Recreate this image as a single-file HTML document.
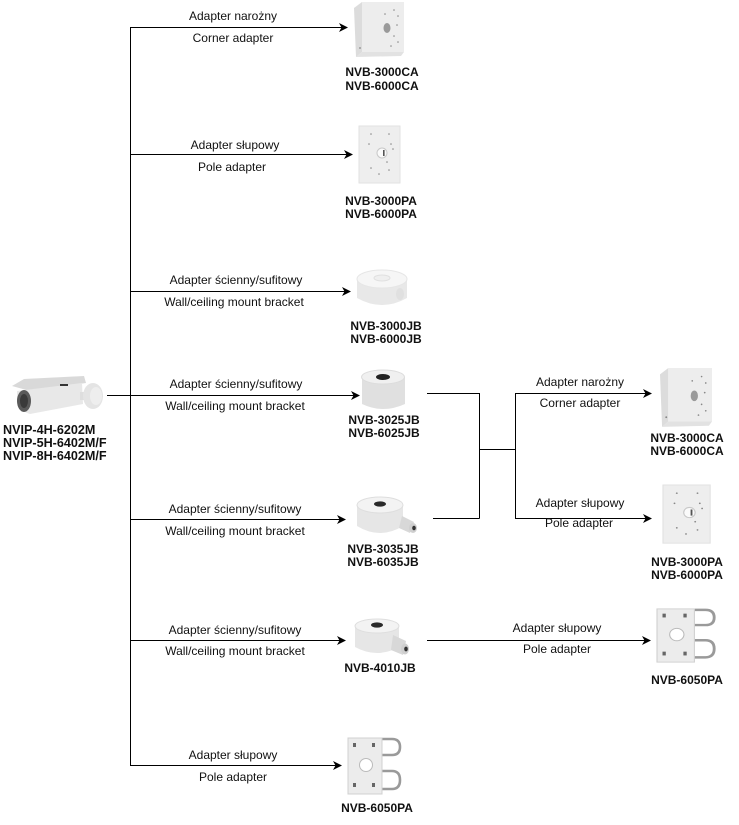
<!DOCTYPE html>
<html><head><meta charset="utf-8"><style>
html,body{margin:0;padding:0;background:#fff;}
svg{display:block;}
text{font-family:"Liberation Sans",Arial,sans-serif;fill:#111;}
.l{font-size:12px;text-anchor:middle;}
.b{font-size:12px;font-weight:bold;text-anchor:middle;}
.c{font-size:12.6px;font-weight:bold;}
</style></head><body>
<svg width="739" height="825" viewBox="0 0 739 825" xmlns="http://www.w3.org/2000/svg">
<defs>
<g id="ca">
  <polygon points="0,6 8,0 8,50 2,55" fill="#dcdcdc"/>
  <rect x="8" y="0" width="42" height="50" fill="#ededed"/>
  <polygon points="2,55 8,50 50,50 47,54" fill="#e2e2e2"/>
  <ellipse cx="33" cy="26" rx="3.5" ry="5" fill="#9a9a9a"/>
  <g fill="#888"><circle cx="40" cy="8" r="0.8"/><circle cx="44" cy="14" r="0.8"/><circle cx="31" cy="12" r="0.8"/><circle cx="43" cy="23" r="0.8"/><circle cx="40" cy="34" r="0.8"/><circle cx="44" cy="40" r="0.8"/><circle cx="37" cy="44" r="0.8"/><circle cx="6" cy="46" r="0.9"/></g>
</g>
<g id="pa">
  <rect x="0" y="0" width="41" height="57" fill="#eeeeee" stroke="#e2e2e2"/>
  <circle cx="23" cy="27" r="5" fill="#fafafa" stroke="#c8c8c8"/>
  <rect x="24" y="24" width="1.6" height="6" fill="#555"/>
  <g fill="#888"><circle cx="12" cy="8" r="0.8"/><circle cx="30" cy="8" r="0.8"/><circle cx="10" cy="18" r="0.8"/><circle cx="32" cy="18" r="0.8"/><circle cx="34" cy="23" r="0.8"/><circle cx="28" cy="36" r="0.8"/><circle cx="12" cy="42" r="0.8"/><circle cx="30" cy="44" r="0.8"/><circle cx="20" cy="48" r="0.8"/></g>
</g>
<g id="pp">
  <path d="M24 3 L44 3 Q52 3 52 11 Q52 19 44 19 L33 19" fill="none" stroke="#9a9a9a" stroke-width="2.6"/>
  <path d="M33 35 L44 35 Q52 35 52 44 Q52 53 44 53 L33 53" fill="none" stroke="#9a9a9a" stroke-width="2.6"/>
  <rect x="0" y="2" width="34" height="56" fill="#ececec" stroke="#d0d0d0"/>
  <circle cx="18" cy="29" r="6.5" fill="#fff" stroke="#bbb"/>
  <g fill="#666"><rect x="5" y="7" width="3" height="4"/><rect x="24" y="7" width="3" height="4"/><rect x="5" y="47" width="3" height="4"/><rect x="24" y="47" width="3" height="4"/></g>
</g>
</defs>

<!-- connectors -->
<g stroke="#000" stroke-width="1" fill="none">
  <path d="M130.5 27 V766"/>
  <path d="M130 27.5 H345"/>
  <path d="M130 154.5 H350"/>
  <path d="M130 291.5 H348"/>
  <path d="M107 395.5 H357"/>
  <path d="M130 519.5 H343"/>
  <path d="M130 640.5 H343"/>
  <path d="M130 765.5 H339"/>
  <path d="M427 393.5 H479.5 V518.5 M433 518.5 H479.5 M479.5 449.5 H515.5 M515.5 393.5 V518.5"/>
  <path d="M515 393.5 H649"/>
  <path d="M515 518.5 H649"/>
  <path d="M427 640.5 H648"/>
</g>
<g fill="#000">
  <path d="M348 27.5 l-9 -4.5 l2.5 4.5 l-2.5 4.5 z"/>
  <path d="M353 154.5 l-9 -4.5 l2.5 4.5 l-2.5 4.5 z"/>
  <path d="M351 291.5 l-9 -4.5 l2.5 4.5 l-2.5 4.5 z"/>
  <path d="M360 395.5 l-9 -4.5 l2.5 4.5 l-2.5 4.5 z"/>
  <path d="M346 519.5 l-9 -4.5 l2.5 4.5 l-2.5 4.5 z"/>
  <path d="M346 640.5 l-9 -4.5 l2.5 4.5 l-2.5 4.5 z"/>
  <path d="M342 765.5 l-9 -4.5 l2.5 4.5 l-2.5 4.5 z"/>
  <path d="M652 393.5 l-9 -4.5 l2.5 4.5 l-2.5 4.5 z"/>
  <path d="M652 518.5 l-9 -4.5 l2.5 4.5 l-2.5 4.5 z"/>
  <path d="M651 640.5 l-9 -4.5 l2.5 4.5 l-2.5 4.5 z"/>
</g>

<!-- camera -->
<g>
  <path d="M12 386 L24 379 L84 376 L86 383 L30 391 Z" fill="#d9d9d9"/>
  <path d="M17 391 L82 383 L83 404 L30 414 Q19 411 17 400 Z" fill="#e8e8e8"/>
  <ellipse cx="24" cy="401" rx="7" ry="11" fill="#5a5a5a"/>
  <ellipse cx="24" cy="401" rx="4" ry="7" fill="#3a3a3a"/>
  <rect x="80" y="392" width="8" height="8" fill="#dedede"/>
  <ellipse cx="93" cy="396" rx="10" ry="13" fill="#e4e4e4"/>
  <ellipse cx="96" cy="396" rx="6" ry="9" fill="#eeeeee"/>
  <rect x="60" y="384" width="8" height="2" fill="#333"/>
</g>
<text class="c" x="3" y="434">NVIP-4H-6202M</text>
<text class="c" x="3" y="447">NVIP-5H-6402M/F</text>
<text class="c" x="3" y="460">NVIP-8H-6402M/F</text>

<!-- devices -->
<use href="#ca" transform="translate(354,2)"/>
<use href="#pa" transform="translate(359,126)"/>
<use href="#ca" transform="translate(660,368) scale(1.04,1.07)"/>
<use href="#pa" transform="translate(663,485) scale(1.15,1.02)"/>
<use href="#pp" transform="translate(348,736)"/>
<use href="#pp" transform="translate(657,607) scale(1.1,0.95)"/>

<!-- JB -->
<g>
  <path d="M357 279 V298 Q382 312 407 298 V279 Z" fill="#e8e8e8"/>
  <ellipse cx="382" cy="279" rx="25" ry="9" fill="#f6f6f6" stroke="#e6e6e6"/>
  <ellipse cx="382" cy="278" rx="8" ry="3" fill="#efefef" stroke="#e0e0e0"/>
  <ellipse cx="400" cy="294" rx="4" ry="6" fill="#e0e0e0"/>
</g>
<!-- 3025JB -->
<g>
  <path d="M362 377 V404 Q383 414 405 404 V377 Z" fill="#e0e0e0"/>
  <ellipse cx="383" cy="377" rx="21.5" ry="7" fill="#f0f0f0" stroke="#dcdcdc"/>
  <ellipse cx="383" cy="377" rx="7" ry="3" fill="#222"/>
</g>
<!-- 3035JB -->
<g>
  <path d="M357 505 V526 Q380 540 403 526 V505 Z" fill="#e6e6e6"/>
  <ellipse cx="380" cy="505" rx="23" ry="8" fill="#f3f3f3" stroke="#dedede"/>
  <ellipse cx="380" cy="504" rx="6" ry="2.6" fill="#2a2a2a"/>
  <path d="M402 516 L414 522 L410 533 L399 528 Z" fill="#d8d8d8"/>
  <ellipse cx="413" cy="528" rx="4" ry="5" fill="#cfcfcf"/>
  <ellipse cx="414" cy="528" rx="1.8" ry="2.3" fill="#333"/>
</g>
<!-- 4010JB -->
<g>
  <path d="M355 626 V647 Q377 659 399 647 V626 Z" fill="#e6e6e6"/>
  <ellipse cx="377" cy="626" rx="22" ry="7" fill="#f3f3f3" stroke="#dedede"/>
  <ellipse cx="377" cy="625" rx="6" ry="2.6" fill="#2a2a2a"/>
  <path d="M393 635 L406 641 L403 655 L391 650 Z" fill="#d8d8d8"/>
  <ellipse cx="405" cy="649" rx="4" ry="5.5" fill="#cfcfcf"/>
  <ellipse cx="406" cy="649" rx="1.8" ry="2.4" fill="#333"/>
</g>

<!-- edge labels -->
<text class="l" x="233" y="20">Adapter narożny</text>
<text class="l" x="233" y="42">Corner adapter</text>
<text class="l" x="235" y="149">Adapter słupowy</text>
<text class="l" x="232" y="171">Pole adapter</text>
<text class="l" x="236" y="284">Adapter ścienny/sufitowy</text>
<text class="l" x="234" y="306">Wall/ceiling mount bracket</text>
<text class="l" x="236" y="388">Adapter ścienny/sufitowy</text>
<text class="l" x="235" y="410">Wall/ceiling mount bracket</text>
<text class="l" x="235" y="513">Adapter ścienny/sufitowy</text>
<text class="l" x="235" y="535">Wall/ceiling mount bracket</text>
<text class="l" x="235" y="634">Adapter ścienny/sufitowy</text>
<text class="l" x="235" y="655">Wall/ceiling mount bracket</text>
<text class="l" x="233" y="759">Adapter słupowy</text>
<text class="l" x="233" y="781">Pole adapter</text>
<text class="l" x="580" y="386">Adapter narożny</text>
<text class="l" x="580" y="407">Corner adapter</text>
<text class="l" x="580" y="507">Adapter słupowy</text>
<text class="l" x="579" y="527">Pole adapter</text>
<text class="l" x="557" y="632">Adapter słupowy</text>
<text class="l" x="557" y="653">Pole adapter</text>

<!-- device labels -->
<text class="b" x="382" y="76">NVB-3000CA</text>
<text class="b" x="382" y="90">NVB-6000CA</text>
<text class="b" x="381" y="205">NVB-3000PA</text>
<text class="b" x="381" y="218">NVB-6000PA</text>
<text class="b" x="386" y="330">NVB-3000JB</text>
<text class="b" x="386" y="343">NVB-6000JB</text>
<text class="b" x="384" y="424">NVB-3025JB</text>
<text class="b" x="384" y="437">NVB-6025JB</text>
<text class="b" x="383" y="553">NVB-3035JB</text>
<text class="b" x="383" y="566">NVB-6035JB</text>
<text class="b" x="380" y="672">NVB-4010JB</text>
<text class="b" x="377" y="812">NVB-6050PA</text>
<text class="b" x="687" y="442">NVB-3000CA</text>
<text class="b" x="687" y="455">NVB-6000CA</text>
<text class="b" x="687" y="566">NVB-3000PA</text>
<text class="b" x="687" y="579">NVB-6000PA</text>
<text class="b" x="687" y="684">NVB-6050PA</text>
</svg>
</body></html>
